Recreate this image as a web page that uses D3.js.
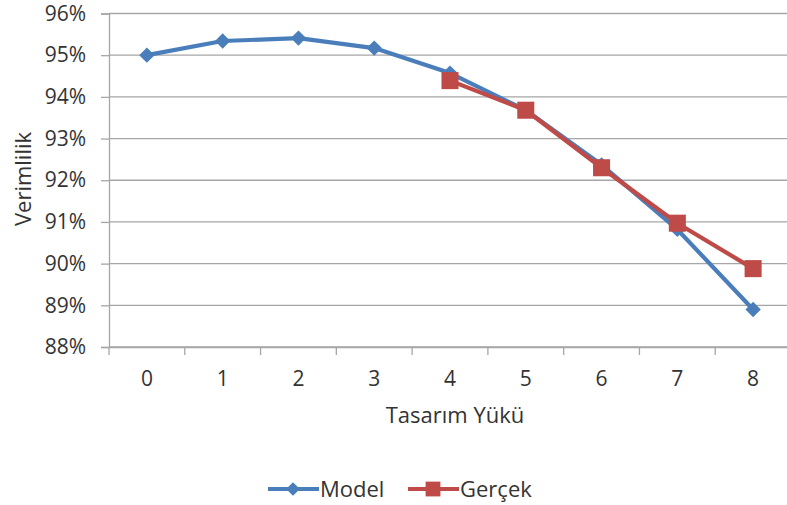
<!DOCTYPE html>
<html>
<head>
<meta charset="utf-8">
<script src="https://cdn.jsdelivr.net/npm/d3@7/dist/d3.min.js"></script>
<style>
  html, body { margin: 0; padding: 0; background: #fff; }
  svg { display: block; font-family: "Open Sans", Lato, sans-serif; }
</style>
</head>
<body>
<svg id="chart" width="787" height="505"></svg>
<script>
// Efficiency (%) versus design load
const categories = [0, 1, 2, 3, 4, 5, 6, 7, 8];
const modelValues = [95.0, 95.34, 95.41, 95.17, 94.57, 93.68, 92.37, 90.82, 88.9];
const gercekLoads = [4, 5, 6, 7, 8];
const gercekValues = [94.39, 93.68, 92.3, 90.97, 89.88];
const yTicks = [88, 89, 90, 91, 92, 93, 94, 95, 96];

const svg = d3.select("#chart");
const margin = { left: 109, right: -4, top: 13.5, bottom: 158 };
const width = 787, height = 505;
const tickFont = "21px";
const titleFont = "22px";

const x = d3.scaleBand()
  .domain(categories)
  .range([margin.left, width - margin.right])
  .paddingInner(0).paddingOuter(0);
const y = d3.scaleLinear()
  .domain([88, 96])
  .range([height - margin.bottom, margin.top]);

const textColor = "#333333";
const gridColor = "#a6a6a6";

// horizontal gridlines
svg.append("g")
  .selectAll("line")
  .data(yTicks)
  .join("line")
  .attr("x1", margin.left).attr("x2", width - margin.right)
  .attr("y1", d => y(d)).attr("y2", d => y(d))
  .attr("stroke", gridColor).attr("stroke-width", 1.3);

// y axis
const yAxis = svg.append("g")
  .attr("transform", `translate(${margin.left},0)`)
  .call(d3.axisLeft(y).tickValues(yTicks).tickSize(8).tickPadding(15)
    .tickFormat(d => d + "%"));
yAxis.select(".domain").attr("stroke", gridColor).attr("stroke-width", 1.3);
yAxis.selectAll(".tick line").attr("stroke", gridColor).attr("stroke-width", 1.3);
yAxis.selectAll("text").attr("fill", textColor).style("font-size", tickFont);

// x axis with tick marks at category boundaries
const xAxis = svg.append("g")
  .attr("transform", `translate(0,${y(88)})`)
  .call(d3.axisBottom(x).tickSize(0).tickPadding(24));
xAxis.select(".domain").attr("stroke", gridColor).attr("stroke-width", 1.3);
xAxis.selectAll("text").attr("fill", textColor).style("font-size", tickFont);
xAxis.selectAll(".boundary")
  .data(categories)
  .join("line")
  .attr("class", "boundary")
  .attr("x1", d => x(d)).attr("x2", d => x(d))
  .attr("y1", 0).attr("y2", 8)
  .attr("stroke", gridColor).attr("stroke-width", 1.3);
svg.selectAll("g").attr("font-family", null);

// axis titles
svg.append("text")
  .attr("x", 455).attr("y", 423)
  .attr("text-anchor", "middle")
  .attr("fill", textColor).style("font-size", titleFont)
  .text("Tasarım Yükü");
svg.append("text")
  .attr("transform", "translate(31,179) rotate(-90)")
  .attr("text-anchor", "middle")
  .attr("fill", textColor).style("font-size", titleFont)
  .text("Verimlilik");

const cx = d => x(d) + x.bandwidth() / 2;
const blue = "#4a7ebb", red = "#be4b48";

const line = d3.line().x(d => cx(d[0])).y(d => y(d[1]));

const modelData = categories.map((c, i) => [c, modelValues[i]]);
const gercekData = gercekLoads.map((c, i) => [c, gercekValues[i]]);

const diamond = d3.symbol().type(d3.symbolDiamond2).size(150);
const square = d3.symbol().type(d3.symbolSquare2).size(370);

// Model series
svg.append("path")
  .datum(modelData)
  .attr("d", line)
  .attr("fill", "none").attr("stroke", blue).attr("stroke-width", 4.2)
  .attr("stroke-linejoin", "round");
svg.append("g").selectAll("path")
  .data(modelData)
  .join("path")
  .attr("transform", d => `translate(${cx(d[0])},${y(d[1])})`)
  .attr("d", diamond)
  .attr("fill", blue);

// Gerçek series
svg.append("path")
  .datum(gercekData)
  .attr("d", line)
  .attr("fill", "none").attr("stroke", red).attr("stroke-width", 4.2)
  .attr("stroke-linejoin", "round");
svg.append("g").selectAll("path")
  .data(gercekData)
  .join("path")
  .attr("transform", d => `translate(${cx(d[0])},${y(d[1])})`)
  .attr("d", square)
  .attr("fill", red);

// legend
const legend = [
  { name: "Model", color: blue, sym: d3.symbol().type(d3.symbolDiamond2).size(120), x: 268 },
  { name: "Gerçek", color: red, sym: d3.symbol().type(d3.symbolSquare2).size(280), x: 408 }
];
const lg = svg.append("g").selectAll("g").data(legend).join("g")
  .attr("transform", d => `translate(${d.x},489)`);
lg.append("line").attr("x1", 0).attr("x2", 51)
  .attr("stroke", d => d.color).attr("stroke-width", 4);
lg.append("path").attr("transform", "translate(25,0)")
  .attr("d", d => d.sym())
  .attr("fill", d => d.color);
lg.append("text").attr("x", 52).attr("y", 0).attr("dy", "0.35em")
  .attr("fill", textColor).style("font-size", titleFont)
  .text(d => d.name);
</script>
</body>
</html>
